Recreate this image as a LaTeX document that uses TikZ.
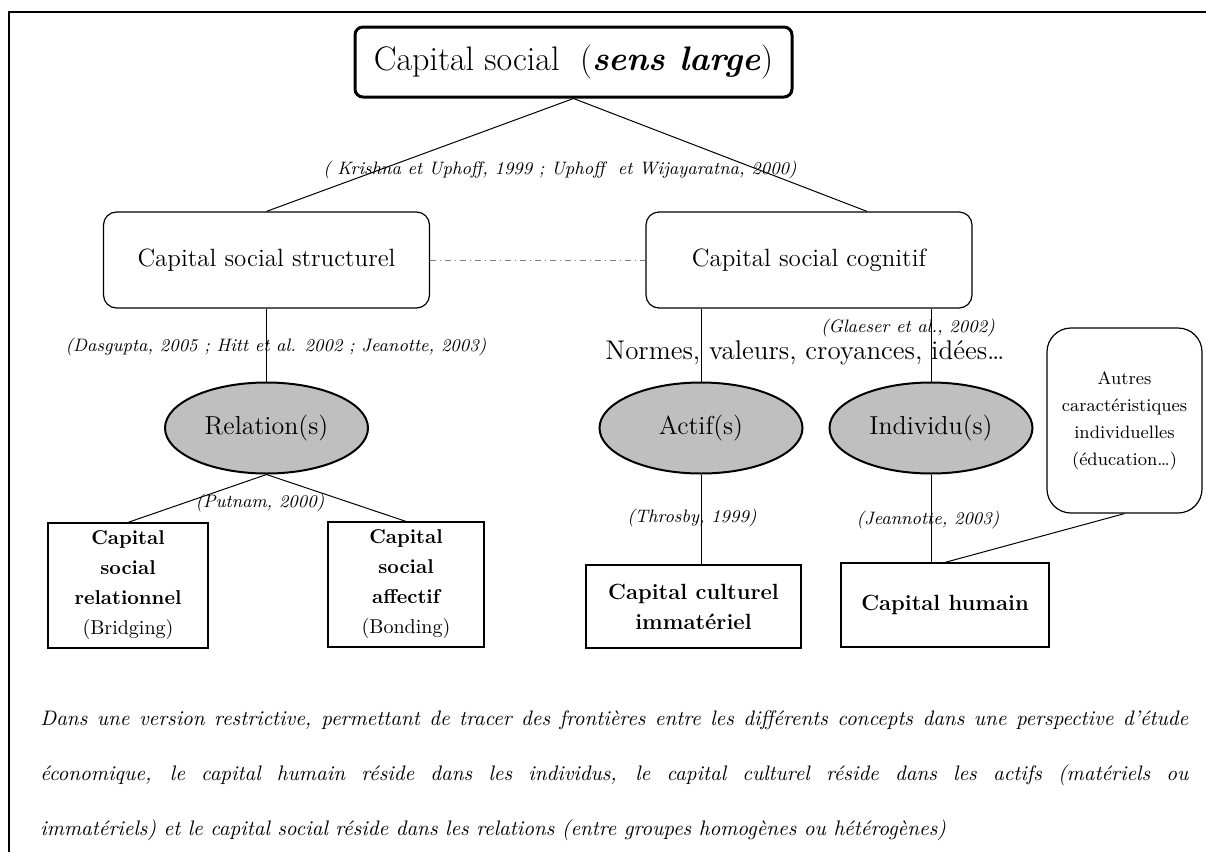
\documentclass[tikz,border=0pt]{standalone}
\usepackage{tikz}
\usetikzlibrary{shapes,calc,positioning}
\tikzset{>=latex}

\begin{document}
\begin{tikzpicture}[x=0.5pt,y=-0.5pt,
    cadre/.style={draw, line width=0.6pt, rounded corners=6.5pt, minimum width=163pt, minimum height=48pt, font=\fontsize{12.5}{15}\selectfont},
    pastille/.style={draw, ellipse, fill=black!25, line width=1pt, minimum width=101.5pt, minimum height=45.5pt, font=\fontsize{13}{15}\selectfont},
    capital/.style={draw, line width=0.6pt, align=center, inner sep=0pt, font=\fontsize{11}{15}\selectfont\bfseries},
    source/.style={font=\fontsize{9}{11}\selectfont\itshape, inner sep=0pt},
    lien/.style={line width=0.5pt}]

  \useasboundingbox (0,0) rectangle (1206,852);
  \draw[line width=1.2pt] (9,852) -- (9,12) -- (1206,12);

  % sens large
  \node[draw, line width=1.5pt, rounded corners=4pt, minimum width=218.5pt, minimum height=35pt,
        font=\fontsize{17}{20}\selectfont] (titre) at (573.5,62) {Capital social\ \ (\textbf{\textit{sens large}})};
  \node[source] (krish) at (560,170) {( Krishna et Uphoff, 1999 ; Uphoff\ \ et Wijayaratna, 2000)};

  \node[cadre] (struct) at (266.5,260) {Capital social structurel};
  \node[cadre] (cogn) at (809,260) {Capital social cognitif};

  % porteurs
  \node[pastille] (rel) at (266.5,428) {Relation(s)};
  \node[pastille] (act) at (701,428) {Actif(s)};
  \node[pastille] (ind) at (931,428) {Individu(s)};

  \node[source] (dasg) at (276,347) {(Dasgupta, 2005 ; Hitt et al. 2002 ; Jeanotte, 2003)};
  \node[source] (glae) at (908,328) {(Glaeser et al., 2002)};
  \node[font=\fontsize{13.5}{15}\selectfont, inner sep=0pt] (normes) at (805,353) {Normes, valeurs, croyances, idées…};

  \node[draw, line width=0.6pt, rounded corners=12pt, minimum width=77.5pt, minimum height=92.5pt, align=center,
        inner sep=0pt, font=\fontsize{9}{13.5}\selectfont] (autres) at (1124.5,420.5)
        {Autres\\caractéristiques\\individuelles\\(éducation…)};

  % formes de capital
  \node[capital, minimum width=80pt, minimum height=62.5pt, font=\fontsize{10}{15}\selectfont\bfseries] (relat) at (128,585.5)
        {Capital\\social\\relationnel\\\mdseries(Bridging)};
  \node[capital, minimum width=78pt, minimum height=62.5pt, font=\fontsize{10}{15}\selectfont\bfseries] (affec) at (406,584.5)
        {Capital\\social\\affectif\\\mdseries(Bonding)};
  \node[capital, minimum width=107.5pt, minimum height=41.5pt] (cultu) at (693.5,606.5) {Capital culturel\\immatériel};
  \node[capital, minimum width=104pt, minimum height=42pt] (humain) at (945,605) {Capital humain};

  \node[source] (putn) at (260,503) {(Putnam, 2000)};
  \node[source] (thros) at (692,518) {(Throsby, 1999)};
  \node[source] (jeann) at (928,520) {(Jeannotte, 2003)};

  \draw[lien] (titre.south) -- (struct.north);
  \draw[lien] (titre.south) -- ($(cogn.north)+(58,0)$);
  \draw[lien, gray, dash dot] (struct.east) -- (cogn.west);
  \draw[lien] (struct.south) -- (rel.north);
  \draw[lien] (act.north) -- (act.north |- cogn.south);
  \draw[lien] (ind.north) -- (ind.north |- cogn.south);
  \draw[lien] (rel.south) -- (relat.north);
  \draw[lien] (rel.south) -- (affec.north);
  \draw[lien] (act.south) -- (act.south |- cultu.north);
  \draw[lien] (ind.south) -- (ind.south |- humain.north);
  \draw[lien] (autres.south) -- (humain.north);

  \node[anchor=north west, text width=574pt, inner sep=0pt, align=justify,
        font=\fontsize{10.5}{27.5}\selectfont\itshape] (texte) at (40,710)
  {Dans une version restrictive, permettant de tracer des frontières entre les différents concepts dans une perspective d’étude\linebreak
   économique, le capital humain réside dans les individus, le capital culturel réside dans les actifs (matériels ou\linebreak
   immatériels) et le capital social réside dans les relations (entre groupes homogènes ou hétérogènes)};
\end{tikzpicture}
\end{document}
